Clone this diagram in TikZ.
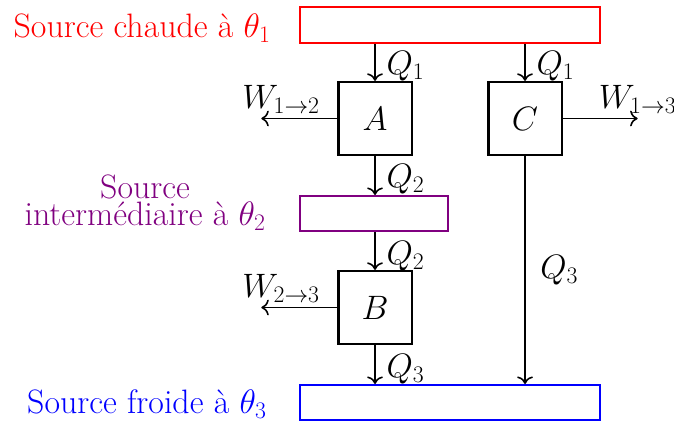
\documentclass[tikz,border=0pt]{standalone}
\usepackage{fix-cm}
\usepackage{amsmath, amssymb}
\usepackage{xcolor}
\usepackage{tikz}
\usetikzlibrary{positioning, arrows.meta, calc}

\begin{document}
\begin{tikzpicture}[
  font=\fontsize{25.7}{20.5}\selectfont,
  source/.style={draw, line width=1.6pt, minimum width=8cm, minimum height=0.93cm, inner sep=0pt},
  machine/.style={draw, line width=1.6pt, minimum size=1.95cm, inner sep=0pt},
  flux/.style={draw, -{To[scale=1.35]}, line width=1.2pt},
  qlab/.style={right, xshift=0.17cm}
]
\useasboundingbox (0,0) rectangle (17.973,11.28);

% sources
\node[source, draw=red, minimum height=0.96cm] (hot) at (12,10.61) {};
\node[source, draw=violet, minimum width=3.95cm] (inter) at (9.97,5.587) {};
\node[source, draw=blue] (cold) at (12,0.547) {};

\node[red, left=0.63cm of hot, yshift=-0.07cm] (hotlab) {Source chaude à $\theta_1$};
\node[violet, align=center, left=0.76cm of inter, yshift=0.28cm] (interlab) {Source\\intermédiaire à $\theta_2$};
\node[blue, left=0.74cm of cold, yshift=-0.04cm] (coldlab) {Source froide à $\theta_3$};

% machines
\node[machine] (A) at (10,8.12) {$A$};
\node[machine] (C) at (14,8.12) {$C$};
\node[machine] (B) at (10,3.08) {$B$};

% work
\coordinate[left=2.03cm of A] (wab);
\coordinate[right=2.0cm of C] (wac);
\coordinate[left=2.03cm of B] (wbc);

% heat flows
\draw[flux] (A.north |- hot.south) -- node[qlab, pos=0.6] {$Q_1$} (A.north);
\draw[flux] (C.north |- hot.south) -- node[qlab, pos=0.6] {$Q_1$} (C.north);
\draw[flux] (A.south) -- node[qlab, pos=0.6] {$Q_2$} (A.south |- inter.north);
\draw[flux] (B.north |- inter.south) -- node[qlab, pos=0.65] {$Q_2$} (B.north);
\draw[flux] (B.south) -- node[qlab, pos=0.62] {$Q_3$} (B.south |- cold.north);
\draw[flux] (C.south) -- node[qlab, xshift=0.1cm, midway] {$Q_3$} (C.south |- cold.north);

\draw[flux] (A.west) -- node[above, pos=0.74] {$W_{1\to2}$} (wab);
\draw[flux] (C.east) -- node[above, pos=1] {$W_{1\to3}$} (wac);
\draw[flux] (B.west) -- node[above, pos=0.74] {$W_{2\to3}$} (wbc);

\end{tikzpicture}
\end{document}
